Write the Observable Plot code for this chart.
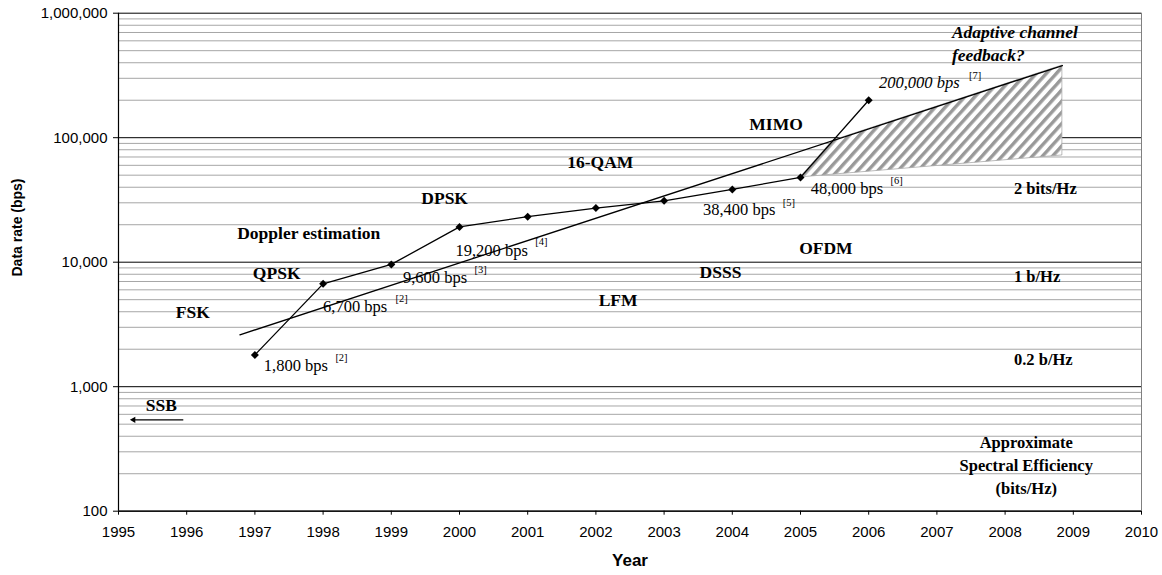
<!DOCTYPE html>
<html><head><meta charset="utf-8">
<script src="https://cdn.jsdelivr.net/npm/d3@7"></script>
<script src="https://cdn.jsdelivr.net/npm/@observablehq/plot@0.6"></script>
<style>body{margin:0;background:#fff}</style>
</head><body><div id="chart"></div>
<script>
// ---- data ----
const years = [1997, 1998, 1999, 2000, 2001, 2002, 2003, 2004, 2005, 2006];
const rates = [1800, 6700, 9600, 19200, 23200, 27200, 31100, 38400, 48000, 200000];
const trendYears = [1996.78, 2008.84];
const trendRates = [2610, 380000];
const hatchBottomYears = [2005, 2008.84];
const hatchBottomRates = [48000, 72000];
const yTicks = [100, 1000, 10000, 100000, 1000000];
const xTicks = [1995,1996,1997,1998,1999,2000,2001,2002,2003,2004,2005,2006,2007,2008,2009,2010];

const techLabels = ["FSK", "QPSK", "Doppler estimation", "DPSK", "16-QAM", "MIMO", "LFM", "DSSS", "OFDM", "SSB"];
const techYears  = [1995.84, 1996.97, 1996.74, 1999.44, 2001.58, 2004.25, 2002.04, 2003.52, 2004.98, 1995.40];
const techRates  = [3960, 8160, 16900, 32700, 62900, 129000, 4920, 8310, 12950, 706];

const rateLabels = ["1,800 bps", "6,700 bps", "9,600 bps", "19,200 bps", "38,400 bps", "48,000 bps"];
const rateLabelYears = [1997.13, 1998.0, 1999.17, 1999.94, 2003.57, 2005.15];
const rateLabelRates = [1480, 4350, 7500, 12400, 26400, 38900];
const refLabels = ["[2]", "[2]", "[3]", "[4]", "[5]", "[6]", "[7]"];
const refYears = [1998.18, 1999.06, 2000.22, 2001.11, 2004.74, 2006.32, 2007.47];
const refRates = [1726, 5080, 8740, 14660, 30300, 45300, 316000];
const topLabel = "200,000 bps";
const topLabelPos = [2006.15, 279000];

const adaptiveLines = ["Adaptive channel", "feedback?"];
const adaptiveYears = [2007.22, 2007.22];
const adaptiveRates = [700000, 457000];

const effLabels = ["2 bits/Hz", "1 b/Hz", "0.2 b/Hz"];
const effYears = [2008.13, 2008.13, 2008.13];
const effRates = [38900, 7580, 1645];
const effTitle = ["Approximate", "Spectral Efficiency", "(bits/Hz)"];
const effTitleYears = [2008.31, 2008.31, 2008.31];
const effTitleRates = [352, 232, 151];

const ssbArrow = {x1: 1995.95, x2: 1995.22, rate: 542};

// ---- derived tables ----
const series = years.map((y, i) => ({year: y, rate: rates[i]}));
const trend = trendYears.map((y, i) => ({year: y, rate: trendRates[i]}));
const minorTicks = [];
for (let e = 2; e < 6; e++) for (let m = 2; m <= 9; m++) minorTicks.push(m * Math.pow(10, e));

// hatched region: bottom edge, top = diamond segment 2005-2006 until it meets the trend line, then trend line
const L = Math.log10;
const a0 = L(rates[8]), a1 = L(rates[9]), sA = a1 - a0;
const sT = (L(trendRates[1]) - L(trendRates[0])) / (trendYears[1] - trendYears[0]);
const t0 = L(trendRates[0]) + (years[8] - trendYears[0]) * sT;
const tInt = (t0 - a0) / (sA - sT);
const xInt = years[8] + tInt;
const yIntLog = a0 + tInt * sA;
const bSlope = (L(hatchBottomRates[1]) - L(hatchBottomRates[0])) / (hatchBottomYears[1] - hatchBottomYears[0]);
const bottomAt = x => Math.pow(10, L(hatchBottomRates[0]) + (x - hatchBottomYears[0]) * bSlope);
const hatch = [
  {year: hatchBottomYears[0], lo: hatchBottomRates[0], hi: hatchBottomRates[0]},
  {year: xInt, lo: bottomAt(xInt), hi: Math.pow(10, yIntLog)},
  {year: hatchBottomYears[1], lo: hatchBottomRates[1], hi: trendRates[1]}
];

const serif = "Liberation Serif, Times New Roman, serif";
const sans = "Liberation Sans, Arial, sans-serif";
const tbl = (texts, xs, ys) => texts.map((t, i) => ({text: t, year: xs[i], rate: ys[i]}));

const svg = Plot.plot({
  width: 1162, height: 575,
  marginTop: 12.7, marginBottom: 64.3, marginLeft: 118, marginRight: 21,
  style: {fontFamily: sans, fontSize: "15px", color: "#000", background: "#fff"},
  x: {domain: [1995, 2010]},
  y: {type: "log", domain: [100, 1000000]},
  marks: [
    Plot.ruleY(minorTicks, {stroke: "#a6a6a6", strokeWidth: 1}),
    Plot.ruleY(yTicks, {stroke: "#000", strokeWidth: 1}),
    Plot.ruleX([2010], {stroke: "#808080"}),
    Plot.areaY(hatch, {x: "year", y1: "lo", y2: "hi", fill: "url(#hatch)", stroke: "#aaa", strokeWidth: 0.8}),
    Plot.line(trend, {x: "year", y: "rate", stroke: "#000", strokeWidth: 1.3}),
    Plot.line(series, {x: "year", y: "rate", stroke: "#000", strokeWidth: 1.3}),
    Plot.dot(series, {x: "year", y: "rate", symbol: "diamond2", r: 3.6, fill: "#000", stroke: "none"}),
    Plot.link([ssbArrow], {x1: "x1", x2: "x2", y1: "rate", y2: "rate", stroke: "#000", strokeWidth: 1.3}),
    Plot.dot([ssbArrow], {x: "x2", y: "rate", symbol: "triangle2", r: 3, rotate: -90, fill: "#000", stroke: "none"}),
    Plot.ruleX([1995], {stroke: "#000", strokeWidth: 1.2}),
    Plot.ruleY([100], {stroke: "#000", strokeWidth: 1.2}),
    Plot.axisX({ticks: xTicks, tickFormat: d => String(d), tickSize: 4, tickPadding: 11, label: null, fontSize: 15}),
    Plot.axisY({ticks: yTicks, tickFormat: d3.format(","), tickSize: 5, tickPadding: 6, label: null, fontSize: 15}),
    Plot.text(["Year"], {frameAnchor: "bottom", dy: 55, fontWeight: "bold", fontSize: 17, fontFamily: sans}),
    Plot.text(["Data rate (bps)"], {frameAnchor: "left", dx: -100.5, dy: 14.3, rotate: -90, fontWeight: "bold", fontSize: 14, fontFamily: sans}),
    Plot.text(tbl(techLabels, techYears, techRates), {x: "year", y: "rate", text: "text", textAnchor: "start", lineAnchor: "middle", fontFamily: serif, fontWeight: "bold", fontSize: 17.5}),
    Plot.text(tbl(adaptiveLines, adaptiveYears, adaptiveRates), {x: "year", y: "rate", text: "text", textAnchor: "start", lineAnchor: "middle", fontFamily: serif, fontWeight: "bold", fontStyle: "italic", fontSize: 17.5}),
    Plot.text(tbl(effLabels, effYears, effRates), {x: "year", y: "rate", text: "text", textAnchor: "start", lineAnchor: "middle", fontFamily: serif, fontWeight: "bold", fontSize: 16.5}),
    Plot.text(tbl(effTitle, effTitleYears, effTitleRates), {x: "year", y: "rate", text: "text", textAnchor: "middle", lineAnchor: "middle", fontFamily: serif, fontWeight: "bold", fontSize: 16.5}),
    Plot.text(tbl(rateLabels, rateLabelYears, rateLabelRates), {x: "year", y: "rate", text: "text", textAnchor: "start", lineAnchor: "middle", fontFamily: serif, fontSize: 16.5}),
    Plot.text([{text: topLabel, year: topLabelPos[0], rate: topLabelPos[1]}], {x: "year", y: "rate", text: "text", textAnchor: "start", lineAnchor: "middle", fontFamily: serif, fontStyle: "italic", fontSize: 16.5}),
    Plot.text(tbl(refLabels, refYears, refRates), {x: "year", y: "rate", text: "text", textAnchor: "start", lineAnchor: "middle", fontFamily: serif, fontSize: 10.5, fill: "#000"})
  ]
});

const defs = d3.select(svg).insert("defs", ":first-child");
const pat = defs.append("pattern").attr("id", "hatch").attr("patternUnits", "userSpaceOnUse")
  .attr("width", 7.5).attr("height", 7.5).attr("patternTransform", "rotate(42)");
pat.append("rect").attr("width", 7.5).attr("height", 7.5).attr("fill", "#fff");
pat.append("rect").attr("width", 3.4).attr("height", 7.5).attr("fill", "#999");

document.getElementById("chart").appendChild(svg);
</script>
</body></html>
